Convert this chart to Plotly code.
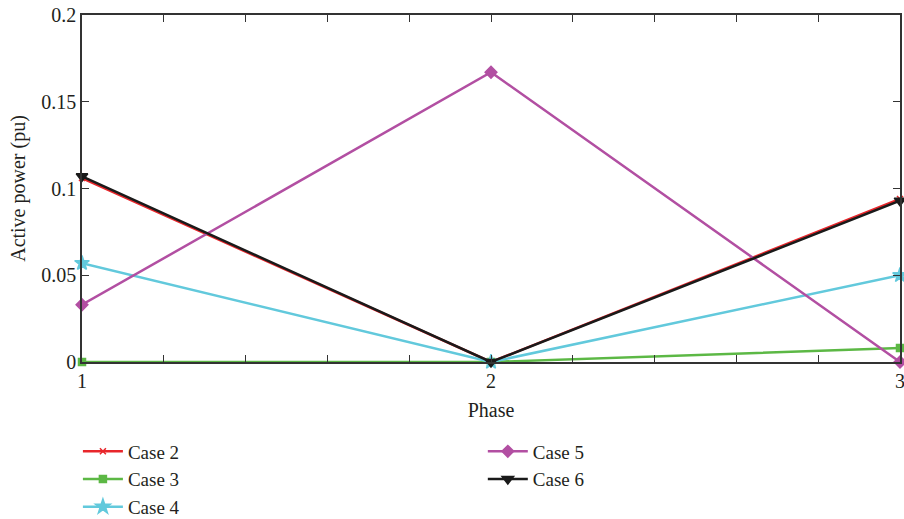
import plotly.graph_objects as go

phases = [1, 2, 3]
case2 = [0.106, 0.0, 0.094]
case3 = [0.0, 0.0, 0.008]
case4 = [0.057, 0.0, 0.050]
case5 = [0.033, 0.167, 0.0]
case6 = [0.107, 0.0, 0.093]

series = [
    ("Case 2", case2, "#e8262b", "x-thin-open", 6, "legend"),
    ("Case 3", case3, "#5cb845", "square", 7, "legend"),
    ("Case 4", case4, "#62c9dc", "star", 11, "legend"),
    ("Case 5", case5, "#b24fa2", "diamond", 9, "legend2"),
    ("Case 6", case6, "#1a1a1a", "triangle-down", 10, "legend2"),
]

fig = go.Figure()
for name, vals, color, sym, size, leg in series:
    fig.add_trace(go.Scatter(
        x=phases, y=vals, name=name, mode="lines+markers",
        line=dict(color=color, width=2.5),
        marker=dict(symbol=sym, size=size, color=color, line=dict(color=color, width=1.5)),
        legend=leg, cliponaxis=False,
    ))

font = dict(family="Liberation Serif", size=20, color="#231f20")
lfont = dict(family="Liberation Serif", size=19, color="#231f20")
axcol = "#333333"
fig.update_layout(
    width=904, height=519,
    margin=dict(l=82, r=4, t=15, b=157, autoexpand=False),
    plot_bgcolor="white", paper_bgcolor="white",
    font=font,
    showlegend=True,
    legend=dict(x=-0.005, y=-0.203, xanchor="left", yanchor="top", font=lfont,
                tracegroupgap=0, itemwidth=40, bgcolor="rgba(0,0,0,0)"),
    legend2=dict(x=0.49, y=-0.203, xanchor="left", yanchor="top", font=lfont,
                 tracegroupgap=0, itemwidth=40, bgcolor="rgba(0,0,0,0)"),
)
fig.update_xaxes(
    range=[1, 3], tickvals=[1, 2, 3], ticktext=["1", "2", "3"],
    ticklabeloverflow="allow",
    ticks="inside", ticklen=7, tickcolor=axcol, showgrid=False, zeroline=False,
    showline=True, linecolor=axcol, linewidth=1.5, mirror="ticks",
    minor=dict(dtick=0.2, tick0=1, ticks="inside", ticklen=7, tickcolor=axcol),
    title=dict(text="Phase", font=font, standoff=12),
    tickfont=font,
)
fig.update_yaxes(
    range=[0, 0.2], tickvals=[0, 0.05, 0.1, 0.15, 0.2],
    ticktext=["0", "0.05", "0.1", "0.15", "0.2"],
    ticks="inside", ticklen=7, tickcolor=axcol, showgrid=False, zeroline=False,
    showline=True, linecolor=axcol, linewidth=1.5, mirror="ticks",
    title=dict(text="Active power (pu)", font=font, standoff=10),
    tickfont=font,
)
fig.write_html("out.html")
